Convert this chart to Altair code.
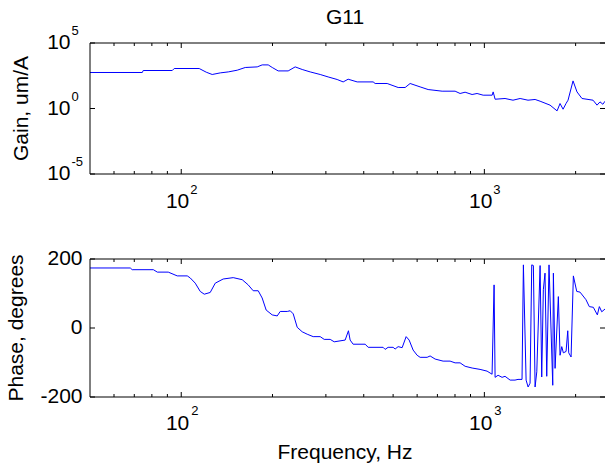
import altair as alt
import pandas as pd

# ---------------- data ----------------
XMIN, XMAX = 50, 2500
GMIN, GMAX = 1e-5, 1e5
PMIN, PMAX = -200, 200

gain_freq = [50, 74.4, 74.9, 93.4, 94.8, 114.6, 120.9, 126.5, 134.5, 142.9, 153, 162.6,
             178.1, 184.9, 193.6, 199.6, 208.8, 225.3, 237.6, 250.6, 266.3, 287.3, 305.2,
             326.8, 342.1, 355.3, 380.5, 429.6, 436.2, 477.8, 519.5, 547.8, 568.9, 613.8,
             652.3, 725.4, 800.6, 831.6, 863.8, 911, 946, 990.7, 1061, 1069, 1085, 1170,
             1243, 1312, 1393, 1470, 1527, 1647, 1737, 1777, 1818, 1861, 1888, 1961, 2021,
             2099, 2283, 2353, 2407, 2460, 2500]
gain_val = [560, 560, 795, 795, 1130, 1130, 590, 395, 524, 620, 840, 1350,
            1500, 2130, 2130, 1350, 740, 740, 1500, 950, 620, 395, 257,
            164, 107, 172, 107, 107, 81, 81, 40, 40, 81, 44.7,
            28, 21, 21, 14, 17.5, 11.7, 14, 10.4, 10.4, 18.5, 5.1, 5.8,
            4.3, 5.8, 4.3, 4.9, 3.6, 1.8, 0.66, 2.4, 0.88, 2.5, 4.3, 128, 18.5,
            5.8, 4.3, 1.8, 3.2, 2.1, 3.6]

phase_freq = [50, 67.9, 68.9, 80.9, 83.4, 90.6, 97.0, 104.7, 107.1, 111.2, 115.5, 119.1,
              124.6, 129.5, 137.5, 148.4, 158.9, 166.3, 172.7, 179.4, 184.9, 190.6, 199.5,
              207.3, 212.1, 223.7, 228.8, 234.1, 241.3, 250.6, 260.3, 272.4, 287.3, 296.2,
              310.0, 319.6, 347.3, 356.1, 360.7, 369.0, 404.4, 413.7, 463.4, 470.5, 481.3,
              500, 507.7, 519.4, 535.5, 552.0, 564.7, 582.1, 600, 613.8, 647.4, 662.2,
              687.9, 730.8, 770.7, 800.6, 831.6, 863.9, 911.2, 967.8, 1020.7, 1060.2,
              1076.5, 1084.8, 1109.8, 1144, 1170, 1216, 1262, 1291, 1331, 1345, 1373,
              1394, 1415, 1433, 1451, 1470, 1489, 1527, 1546, 1565, 1585, 1606, 1634,
              1681, 1689, 1711, 1754, 1777, 1800, 1822, 1860, 1884, 1898, 1932, 1966,
              2017, 2068, 2164, 2219, 2288, 2359, 2395, 2439, 2500]
phase_val = [174, 174, 169, 169, 162, 162, 151, 151, 145, 130, 106, 98,
             103, 130, 142, 146, 140, 125, 108, 108, 87, 52, 38,
             35, 48, 48, 50, 41, 2, -11, -18, -25, -25, -33,
             -33, -40, -35, -8, -35, -47, -47, -56, -56, -62, -56,
             -56, -61, -54, -57, -25, -35, -64, -79, -85, -85, -81,
             -90, -96, -96, -101, -101, -111, -116, -120, -125, -134,
             125, -143, -137, -143, -140, -151, -151, -149, -149, 183, -151,
             -171, -160, 183, 181, -171, -127, 181, -142, 111, 159, -140, 183,
             -166, 159, -117, 91, -79, -54, -72, -68, -8, -72, -84, 151,
             106, 104, 82, 62, 60, 38, 62, 47, 55]

x_major = [100, 1000]
x_major_exp = ["2", "3"]
x_minor = [60, 70, 80, 90, 200, 300, 400, 500, 600, 700, 800, 900, 2000]
gain_ticks = [1e-5, 1, 1e5]
gain_exp = ["-5", "0", "5"]
phase_ticks = [-200, 0, 200]
phase_labels = ["-200", "0", "200"]

TITLE = "G11"
GAIN_TITLE = "Gain, um/A"
PHASE_TITLE = "Phase, degrees"
X_TITLE = "Frequency, Hz"

# ---------------- styling / layout ----------------
FONT = "Liberation Sans"
FS = 21
EXP_FS = 13
BLUE = "#0000ff"
W, H = 515, 354
TOP_H = 131
BOT_Y0, BOT_Y1 = 216, 354

xs = alt.Scale(type="log", domain=[XMIN, XMAX], range=[0, W], nice=False)
ys_top = alt.Scale(type="log", domain=[GMIN, GMAX], range=[TOP_H, 0], nice=False)
ys_bot = alt.Scale(domain=[PMIN, PMAX], range=[BOT_Y1, BOT_Y0], nice=False, zero=False)

gain_df = pd.DataFrame({"f": gain_freq, "g": gain_val})
phase_df = pd.DataFrame({"f": phase_freq, "p": phase_val})
xmaj_df = pd.DataFrame({"f": x_major, "base": ["10"] * len(x_major), "e": x_major_exp})
xmin_df = pd.DataFrame({"f": x_minor})
gt_df = pd.DataFrame({"v": gain_ticks, "base": ["10"] * len(gain_ticks), "e": gain_exp})
pt_df = pd.DataFrame({"v": phase_ticks, "lab": phase_labels})


def X(field):
    return alt.X(field, type="quantitative", scale=xs, axis=None)


def panel(ys, yfield, line_df, frame_lo, frame_hi, y0, y1):
    Y = lambda f: alt.Y(f, type="quantitative", scale=ys, axis=None)
    frame_df = pd.DataFrame({
        "x": [XMIN, XMIN, XMIN],
        "x2": [XMAX, XMAX, XMIN],
        "y": [frame_hi, frame_lo, frame_lo],
        "y2": [frame_hi, frame_lo, frame_hi],
    })
    layers = [
        alt.Chart(line_df).mark_line(color=BLUE, strokeWidth=1).encode(x=X("f"), y=Y(yfield)),
        alt.Chart(frame_df).mark_rule(color="black", strokeWidth=1).encode(
            x=X("x"), x2="x2", y=Y("y"), y2="y2"),
    ]
    for df, ln in ((xmaj_df, 5), (xmin_df, 3)):
        layers.append(alt.Chart(df).mark_rule(color="black", strokeWidth=1).encode(
            x=X("f"), y=alt.value(y0), y2=alt.value(y0 + ln)))
        layers.append(alt.Chart(df).mark_rule(color="black", strokeWidth=1).encode(
            x=X("f"), y=alt.value(y1 - ln), y2=alt.value(y1)))
    return layers, Y


# top panel
top_layers, Yt = panel(ys_top, "g", gain_df, GMIN, GMAX, 0, TOP_H)
top_layers += [
    alt.Chart(gt_df).mark_rule(color="black").encode(x=alt.value(0), x2=alt.value(5), y=Yt("v")),
    alt.Chart(gt_df).mark_rule(color="black").encode(x=alt.value(W - 5), x2=alt.value(W), y=Yt("v")),
    alt.Chart(gt_df).mark_text(font=FONT, fontSize=FS, align="right", baseline="middle", color="black").encode(
        x=alt.value(-19.5), y=Yt("v"), text="base:N"),
    alt.Chart(gt_df).mark_text(font=FONT, fontSize=EXP_FS, align="left", baseline="middle", dy=-12, color="black").encode(
        x=alt.value(-18.5), y=Yt("v"), text="e:N"),
    alt.Chart(xmaj_df).mark_text(font=FONT, fontSize=FS, align="right", baseline="middle", dx=8, color="black").encode(
        x=X("f"), y=alt.value(TOP_H + 28), text="base:N"),
    alt.Chart(xmaj_df).mark_text(font=FONT, fontSize=EXP_FS, align="left", baseline="middle", dx=9, color="black").encode(
        x=X("f"), y=alt.value(TOP_H + 16), text="e:N"),
    alt.Chart(pd.DataFrame({"t": [GAIN_TITLE]})).mark_text(
        font=FONT, fontSize=FS, angle=270, align="center", baseline="alphabetic", color="black").encode(
        x=alt.value(-62), y=alt.value(TOP_H / 2), text="t:N"),
    alt.Chart(pd.DataFrame({"t": [TITLE]})).mark_text(
        font=FONT, fontSize=FS, align="center", baseline="alphabetic", color="black").encode(
        x=alt.value(255), y=alt.value(-19), text="t:N"),
]

# bottom panel
bot_layers, Yb = panel(ys_bot, "p", phase_df, PMIN, PMAX, BOT_Y0, BOT_Y1)
bot_layers += [
    alt.Chart(pt_df).mark_rule(color="black").encode(x=alt.value(0), x2=alt.value(5), y=Yb("v")),
    alt.Chart(pt_df).mark_rule(color="black").encode(x=alt.value(W - 5), x2=alt.value(W), y=Yb("v")),
    alt.Chart(pt_df).mark_text(font=FONT, fontSize=FS, align="right", baseline="middle", color="black").encode(
        x=alt.value(-7.5), y=Yb("v"), text="lab:N"),
    alt.Chart(xmaj_df).mark_text(font=FONT, fontSize=FS, align="right", baseline="middle", dx=8, color="black").encode(
        x=X("f"), y=alt.value(BOT_Y1 + 27), text="base:N"),
    alt.Chart(xmaj_df).mark_text(font=FONT, fontSize=EXP_FS, align="left", baseline="middle", dx=10, color="black").encode(
        x=X("f"), y=alt.value(BOT_Y1 + 14), text="e:N"),
    alt.Chart(pd.DataFrame({"t": [PHASE_TITLE]})).mark_text(
        font=FONT, fontSize=FS, angle=270, align="center", baseline="alphabetic", color="black").encode(
        x=alt.value(-67), y=alt.value((BOT_Y0 + BOT_Y1) / 2), text="t:N"),
    alt.Chart(pd.DataFrame({"t": [X_TITLE]})).mark_text(
        font=FONT, fontSize=FS, align="center", baseline="alphabetic", color="black").encode(
        x=alt.value(255), y=alt.value(BOT_Y1 + 62), text="t:N"),
]

top = alt.layer(*top_layers)
bot = alt.layer(*bot_layers)

chart = alt.layer(top, bot).resolve_scale(y="independent").properties(
    width=W, height=H,
    padding={"left": 90, "top": 43, "right": 0, "bottom": 71},
    autosize=alt.AutoSizeParams(type="none"),
    background="white",
).configure_view(stroke=None)

chart.save("out.html", embed_options={"renderer": "svg", "actions": False})
